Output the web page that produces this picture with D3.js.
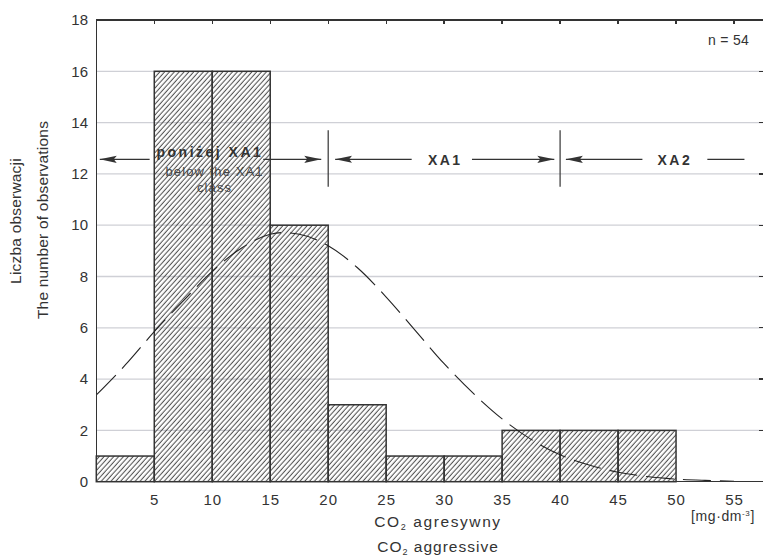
<html>
  <head>
    <meta charset="UTF-8">
    <script src="https://cdn.jsdelivr.net/npm/d3@7/dist/d3.min.js" charset="UTF-8"></script>

    <style type="text/css">

    body { margin: 0; background: white; }

    text { font-family: "Liberation Sans", Arial, sans-serif; fill: #333; }

    rect.bar {
      fill: url(#hatch);
      stroke: #333;
      stroke-width: 1.5;
    }

    line.grid {
      stroke: #cfd0d6;
      stroke-width: 1.3;
    }

    line.frame, line.tick {
      stroke: #333;
      stroke-width: 1.3;
      shape-rendering: crispEdges;
    }

    path.fit {
      fill: none;
      stroke: #222;
      stroke-width: 1.1;
      stroke-dasharray: 28,9;
    }

    line.zone {
      stroke: #333;
      stroke-width: 1.2;
    }

    text.ytick { font-size: 15px; text-anchor: end; }
    text.xtick { font-size: 15px; text-anchor: middle; letter-spacing: 1px; }
    text.ylabel { font-size: 15.5px; text-anchor: middle; letter-spacing: 0.2px; }
    text.xlabel { font-size: 15.5px; text-anchor: middle; letter-spacing: 1.6px; }
    text.zone-bold { font-size: 14px; font-weight: bold; text-anchor: middle; letter-spacing: 2.5px; }
    text.zone-sub { font-size: 13px; text-anchor: middle; letter-spacing: 1.1px; fill: #444; }

    </style>
  </head>
  <body>

    <script type="text/javascript">

      var width = 763;
      var height = 558;

      // class width 5 mg/dm3
      var binStarts = [0, 5, 10, 15, 20, 25, 30, 35, 40, 45, 50];
      var counts = [1, 16, 16, 10, 3, 1, 1, 2, 2, 2, 0];
      var binWidth = 5;

      // fitted normal curve
      var fitX = [0, 2.5, 5, 7.5, 10, 12.5, 15, 16, 17.5, 20, 22.5, 25, 27.5, 30, 32.5, 35, 37.5, 40, 42.5, 45, 47.5, 50, 52.5, 55];
      var fitY = [3.38, 4.55, 5.85, 7.05, 8.2, 9.1, 9.65, 9.71, 9.65, 9.2, 8.35, 7.2, 5.9, 4.6, 3.45, 2.45, 1.65, 1.05, 0.65, 0.37, 0.2, 0.1, 0.05, 0.02];

      var yTicks = [0, 2, 4, 6, 8, 10, 12, 14, 16, 18];
      var xTicks = [5, 10, 15, 20, 25, 30, 35, 40, 45, 50, 55];

      // class boundaries XA1 / XA2
      var bounds = [20, 40];

      var l = 96.3, r = 763, t = 20, b = 481.7;

      var x = d3.scaleLinear().domain([0, 57.5]).range([l, r]);
      var y = d3.scaleLinear().domain([0, 18]).range([b, t]);

      var svg = d3.select("body").append("svg")
        .attr("width", width)
        .attr("height", height);

      var defs = svg.append("defs");

      /* Hatch pattern */
      var pat = defs.append("pattern")
        .attr("id", "hatch")
        .attr("patternUnits", "userSpaceOnUse")
        .attr("width", 3.6)
        .attr("height", 3.6)
        .attr("patternTransform", "rotate(42)");
      pat.append("line")
        .attr("x1", 1.2).attr("y1", 0)
        .attr("x2", 1.2).attr("y2", 3.6)
        .attr("stroke", "#333")
        .attr("stroke-width", 0.9);

      /* Arrow head */
      defs.append("marker")
        .attr("id", "head")
        .attr("markerUnits", "userSpaceOnUse")
        .attr("viewBox", "0 -5 18 10")
        .attr("refX", 17)
        .attr("refY", 0)
        .attr("markerWidth", 18)
        .attr("markerHeight", 10)
        .attr("orient", "auto")
        .append("path")
        .attr("d", "M0,-3.6 L17,0 L0,3.6 L3,0 Z")
        .attr("fill", "#333");

      /* Grid */
      svg.selectAll("line.grid")
        .data(yTicks.slice(1, -1))
        .enter()
        .append("line")
        .attr("class", "grid")
        .attr("x1", l)
        .attr("x2", r)
        .attr("y1", function(d) { return y(d); })
        .attr("y2", function(d) { return y(d); });

      /* Right ticks */
      svg.selectAll("line.rtick")
        .data(yTicks.slice(1, -1))
        .enter()
        .append("line")
        .attr("class", "tick")
        .attr("x1", r - 4)
        .attr("x2", r)
        .attr("y1", function(d) { return y(d); })
        .attr("y2", function(d) { return y(d); });

      /* Bars */
      svg.selectAll("rect.bar")
        .data(binStarts.filter(function(d, i) { return counts[i] > 0; }))
        .enter()
        .append("rect")
        .attr("class", "bar")
        .attr("x", function(d) { return x(d); })
        .attr("width", x(binWidth) - x(0))
        .attr("y", function(d) { return y(counts[binStarts.indexOf(d)]); })
        .attr("height", function(d) { return y(0) - y(counts[binStarts.indexOf(d)]); });

      /* Fitted curve */
      var line = d3.line()
        .x(function(d) { return x(d); })
        .y(function(d, i) { return y(fitY[i]); })
        .curve(d3.curveMonotoneX);

      svg.append("path")
        .attr("class", "fit")
        .attr("d", line(fitX));

      /* Frame */
      svg.append("line").attr("class", "frame")
        .attr("x1", l).attr("y1", t).attr("x2", r).attr("y2", t);
      svg.append("line").attr("class", "frame")
        .attr("x1", l).attr("y1", b).attr("x2", r).attr("y2", b);
      svg.append("line").attr("class", "frame")
        .attr("x1", l).attr("y1", t).attr("x2", l).attr("y2", b);

      /* Top ticks */
      svg.selectAll("line.ttick")
        .data(xTicks)
        .enter()
        .append("line")
        .attr("class", "tick")
        .attr("x1", function(d) { return x(d); })
        .attr("x2", function(d) { return x(d); })
        .attr("y1", t)
        .attr("y2", t + 4);

      /* Tick labels */
      svg.selectAll("text.ytick")
        .data(yTicks)
        .enter()
        .append("text")
        .attr("class", "ytick")
        .attr("x", 88)
        .attr("y", function(d) { return y(d); })
        .attr("dy", "0.35em")
        .text(function(d) { return d; });

      svg.selectAll("text.xtick")
        .data(xTicks)
        .enter()
        .append("text")
        .attr("class", "xtick")
        .attr("x", function(d) { return x(d) + 0.5; })
        .attr("y", 505)
        .text(function(d) { return d; });

      /* Axis titles */
      svg.append("text")
        .attr("class", "ylabel")
        .attr("transform", "translate(16,221) rotate(-90)")
        .attr("dy", "0.35em")
        .text("Liczba obserwacji");

      svg.append("text")
        .attr("class", "ylabel")
        .attr("transform", "translate(42.5,220) rotate(-90)")
        .attr("dy", "0.35em")
        .text("The number of observations");

      var xl1 = svg.append("text").attr("class", "xlabel").attr("x", 438).attr("y", 527);
      xl1.append("tspan").text("CO");
      xl1.append("tspan").attr("font-size", "9px").attr("dy", 3).text("2");
      xl1.append("tspan").attr("dy", -3).text(" agresywny");

      var xl2 = svg.append("text").attr("class", "xlabel").attr("x", 438).attr("y", 552)
        .style("letter-spacing", "1px");
      xl2.append("tspan").text("CO");
      xl2.append("tspan").attr("font-size", "9px").attr("dy", 3).text("2");
      xl2.append("tspan").attr("dy", -3).text(" aggressive");

      var unit = svg.append("text")
        .attr("x", 691).attr("y", 521)
        .style("font-size", "14px")
        .style("letter-spacing", "0.6px");
      unit.append("tspan").text("[mg·dm");
      unit.append("tspan").attr("font-size", "8px").attr("dy", -5).text("-3");
      unit.append("tspan").attr("dy", 5).text("]");

      svg.append("text")
        .attr("x", 708).attr("y", 45)
        .style("font-size", "14px")
        .style("letter-spacing", "0.3px")
        .text("n = 54");

      /* Class zones */
      var ya = y(12.57);

      svg.selectAll("line.bound")
        .data(bounds)
        .enter()
        .append("line")
        .attr("class", "zone")
        .attr("x1", function(d) { return x(d); })
        .attr("x2", function(d) { return x(d); })
        .attr("y1", y(13.7))
        .attr("y2", y(11.5));

      // [from, to, arrow head at 'to']
      var arrows = [[4.6, 0.3, true], [14.4, 19.4, true], [27.2, 20.6, true],
                    [32.4, 39.5, true], [47.1, 40.5, true], [52.7, 55.9, false]];

      svg.selectAll("line.arrow")
        .data(arrows)
        .enter()
        .append("line")
        .attr("class", "zone")
        .attr("x1", function(d) { return x(d[0]); })
        .attr("x2", function(d) { return x(d[1]); })
        .attr("y1", ya)
        .attr("y2", ya)
        .attr("marker-end", function(d) { return d[2] ? "url(#head)" : null; });

      svg.append("text").attr("class", "zone-bold")
        .attr("x", x(9.8)).attr("y", 157).text("poniżej XA1");
      svg.append("text").attr("class", "zone-sub")
        .attr("x", x(10.2)).attr("y", 176).text("below the XA1");
      svg.append("text").attr("class", "zone-sub")
        .attr("x", x(10.2)).attr("y", 192).text("class");
      svg.append("text").attr("class", "zone-bold")
        .attr("x", x(30.1)).attr("y", 164.5).text("XA1");
      svg.append("text").attr("class", "zone-bold")
        .attr("x", x(49.9)).attr("y", 164.5).text("XA2");

    </script>
  </body>
</html>
